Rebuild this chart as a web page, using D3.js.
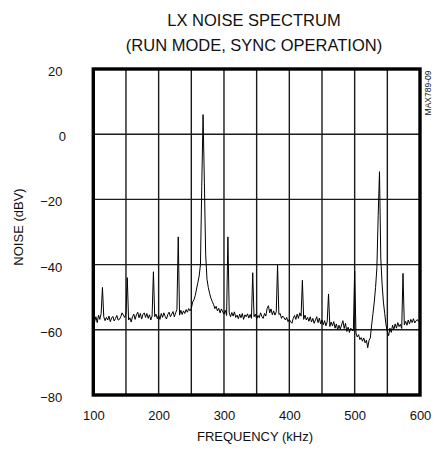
<!DOCTYPE html>
<html>
<head>
<meta charset="utf-8">
<script src="https://cdn.jsdelivr.net/npm/d3@7"></script>
<style>
  html, body { margin: 0; padding: 0; background: #fff; }
  svg { display: block; font-family: "Liberation Sans", Arial, Helvetica, sans-serif; }
</style>
</head>
<body>
<div id="chart"></div>
<script>
// ---------- data ----------
const titleLines = ["LX NOISE SPECTRUM", "(RUN MODE, SYNC OPERATION)"];
const xAxisTitle = "FREQUENCY (kHz)";
const yAxisTitle = "NOISE (dBV)";
const figureCode = "MAX789-09";

const xDomain = [100, 600];
const yDomain = [-80, 20];
const xTicks = [100, 200, 300, 400, 500, 600];
const xGridLines = [150, 200, 250, 300, 350, 400, 450, 500, 550];
const yTicks = [20, 0, -20, -40, -60, -80];
const yGridLines = [0, -20, -40, -60];

// spectrum analyser sweep: one reading every 2 kHz from 100 kHz to 600 kHz
const sampleStepKHz = 2;
const freqKHz = d3.range(100, 600 + sampleStepKHz / 2, sampleStepKHz);
const noiseDBV = [
  -56.5, -57.5, -56.0, -57.8, -55.5, -56.8, -55.0, -47.0, -56.0, -57.2, // 100-118
  -56.2, -57.0, -55.8, -57.5, -56.4, -55.9, -57.3, -56.5, -55.6, -57.0, // 120-138
  -56.8, -56.0, -54.8, -55.5, -56.2, -55.0, -44.0, -57.0, -56.3, -57.6, // 140-158
  -56.0, -55.2, -56.8, -55.4, -54.6, -56.3, -55.0, -56.7, -55.3, -54.8, // 160-178
  -56.2, -55.0, -56.5, -55.4, -57.0, -55.8, -42.2, -56.0, -55.2, -56.6, // 180-198
  -55.5, -56.8, -55.0, -56.2, -54.8, -55.9, -56.7, -55.3, -54.6, -56.0, // 200-218
  -55.2, -54.4, -56.0, -54.8, -53.8, -31.5, -55.5, -54.0, -55.3, -54.2, // 220-238
  -55.0, -53.8, -54.6, -53.5, -54.2, -53.5, -51.5, -50.8, -49.5, -47.5, // 240-258
  -45.5, -43.5, -40.0, -16.0,   6.0, -15.0, -37.0, -44.5, -47.0, -48.8, // 260-278
  -50.3, -51.3, -52.2, -53.5, -52.8, -54.2, -53.4, -54.8, -53.6, -54.5, // 280-298
  -55.2, -54.0, -55.6, -31.5, -54.8, -56.0, -54.7, -55.8, -54.5, -56.2, // 300-318
  -55.5, -56.6, -55.2, -56.3, -55.0, -56.8, -55.4, -56.0, -55.1, -56.4, // 320-338
  -55.3, -56.5, -42.5, -56.0, -55.2, -56.7, -55.6, -56.3, -54.8, -55.9, // 340-358
  -56.5, -55.0, -55.8, -53.5, -52.6, -54.8, -53.6, -55.4, -54.2, -55.5, // 360-378
  -54.5, -40.2, -55.3, -55.0, -56.5, -55.8, -56.3, -57.0, -56.2, -57.5, // 380-398
  -56.8, -57.5, -58.0, -56.5, -55.6, -56.8, -55.2, -56.5, -54.8, -55.8, // 400-418
  -44.8, -56.8, -55.5, -57.0, -56.2, -57.4, -56.0, -57.6, -56.5, -58.0, // 420-438
  -57.0, -56.0, -57.8, -56.4, -58.2, -57.0, -58.5, -57.2, -58.8, -57.5, // 440-458
  -49.0, -59.0, -57.6, -58.8, -57.5, -59.5, -58.2, -60.0, -58.6, -59.8, // 460-478
  -58.5, -57.2, -59.6, -58.0, -60.5, -59.2, -60.8, -59.5, -60.2, -60.2, // 480-498
  -42.0, -61.0, -62.2, -61.5, -63.0, -62.4, -63.5, -62.5, -64.0, -63.2, // 500-518
  -65.5, -63.2, -62.5, -58.5, -55.0, -51.5, -47.0, -41.0, -25.0, -11.5, // 520-538
  -38.0, -46.0, -51.5, -55.0, -58.5, -60.5, -61.8, -59.5, -60.8, -58.6, // 540-558
  -59.8, -58.2, -59.5, -57.8, -59.0, -58.3, -59.6, -42.7, -58.5, -57.4, // 560-578
  -58.6, -57.0, -58.2, -56.8, -57.8, -56.6, -57.9, -57.2, -56.9, -57.6, // 580-598
  -57.8                                                                 // 600
];

// ---------- layout ----------
const W = 434, H = 454;
const plot = { left: 93.3, right: 420, top: 69, bottom: 395 };

const svg = d3.select("#chart").append("svg")
  .attr("width", W).attr("height", H)
  .attr("viewBox", `0 0 ${W} ${H}`);

svg.append("rect").attr("width", W).attr("height", H).attr("fill", "#fff");

const x = d3.scaleLinear().domain(xDomain).range([plot.left, plot.right]);
const y = d3.scaleLinear().domain(yDomain).range([plot.bottom, plot.top]);

// title
svg.append("g").selectAll("text").data(titleLines).join("text")
  .attr("x", 254)
  .attr("y", (d, i) => 26 + i * 25)
  .attr("text-anchor", "middle")
  .attr("font-size", 16.5)
  .attr("fill", "#111")
  .text(d => d);

// grid
const grid = svg.append("g").attr("stroke", "#1a1a1a").attr("stroke-width", 1.4);
grid.selectAll("line.v").data(xGridLines).join("line")
  .attr("class", "v")
  .attr("x1", d => x(d)).attr("x2", d => x(d))
  .attr("y1", plot.top).attr("y2", plot.bottom);
grid.selectAll("line.h").data(yGridLines).join("line")
  .attr("class", "h")
  .attr("y1", d => y(d)).attr("y2", d => y(d))
  .attr("x1", plot.left).attr("x2", plot.right);

// trace
svg.append("defs").append("clipPath").attr("id", "plotclip")
  .append("rect")
  .attr("x", plot.left).attr("y", plot.top)
  .attr("width", plot.right - plot.left).attr("height", plot.bottom - plot.top);

const line = d3.line()
  .x((d, i) => x(freqKHz[i]))
  .y(d => y(d));

svg.append("path")
  .datum(noiseDBV)
  .attr("clip-path", "url(#plotclip)")
  .attr("fill", "none")
  .attr("stroke", "#000")
  .attr("stroke-width", 1)
  .attr("stroke-linejoin", "round")
  .attr("d", line);

// frame
svg.append("rect")
  .attr("x", plot.left).attr("y", plot.top)
  .attr("width", plot.right - plot.left).attr("height", plot.bottom - plot.top)
  .attr("fill", "none").attr("stroke", "#000").attr("stroke-width", 3.4);

// x axis labels
const xAxis = d3.axisBottom(x).tickValues(xTicks).tickSize(0).tickPadding(0);
const xg = svg.append("g").attr("transform", `translate(0,${plot.bottom + 25})`).call(xAxis);
xg.select(".domain").remove();
xg.selectAll("text").attr("font-size", 13).attr("fill", "#111")
  .attr("font-family", "Liberation Sans, Arial, sans-serif").attr("dy", 0);

// y axis labels
const yAxis = d3.axisLeft(y).tickValues(yTicks).tickSize(0).tickPadding(0);
const yg = svg.append("g").attr("transform", `translate(${plot.left - 32},0)`).call(yAxis);
yg.select(".domain").remove();
yg.selectAll("text").attr("font-size", 13).attr("fill", "#111")
  .attr("font-family", "Liberation Sans, Arial, sans-serif")
  .attr("text-anchor", "middle")
  .attr("dy", "0.5em")
  .attr("x", d => d < 0 ? -10 : (d === 0 ? 1 : -6));

// axis titles
svg.append("text")
  .attr("x", 255).attr("y", 441)
  .attr("text-anchor", "middle")
  .attr("font-size", 13).attr("fill", "#111")
  .text(xAxisTitle);

svg.append("text")
  .attr("transform", `translate(23,227) rotate(-90)`)
  .attr("text-anchor", "middle")
  .attr("font-size", 13).attr("fill", "#111")
  .text(yAxisTitle);

// figure code
svg.append("text")
  .attr("transform", `translate(430.5,93) rotate(-90)`)
  .attr("text-anchor", "middle")
  .attr("font-size", 8.5).attr("fill", "#111")
  .text(figureCode);
</script>
</body>
</html>
